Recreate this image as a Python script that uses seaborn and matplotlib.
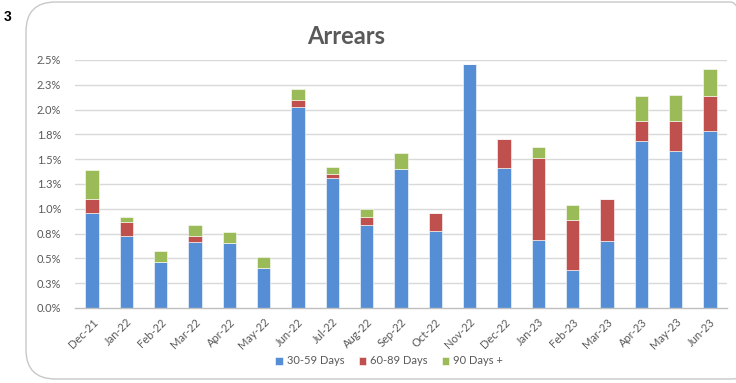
import matplotlib
matplotlib.use("Agg")
import matplotlib.pyplot as plt
from matplotlib.patches import FancyBboxPatch
import numpy as np
import pandas as pd
import seaborn as sns

# Monthly arrears split by age band (percent of book)
months = ["Dec-21", "Jan-22", "Feb-22", "Mar-22", "Apr-22", "May-22", "Jun-22",
          "Jul-22", "Aug-22", "Sep-22", "Oct-22", "Nov-22", "Dec-22", "Jan-23",
          "Feb-23", "Mar-23", "Apr-23", "May-23", "Jun-23"]
days_30_59 = [0.955, 0.730, 0.467, 0.662, 0.655, 0.406, 2.026, 1.310, 0.837, 1.404,
              0.779, 2.463, 1.408, 0.682, 0.383, 0.672, 1.687, 1.583, 1.784]
days_60_89 = [0.144, 0.140, 0.000, 0.067, 0.000, 0.000, 0.071, 0.040, 0.077, 0.000,
              0.182, 0.000, 0.296, 0.833, 0.507, 0.430, 0.201, 0.305, 0.356]
days_90_plus = [0.295, 0.044, 0.108, 0.111, 0.108, 0.111, 0.111, 0.070, 0.081, 0.162,
                0.000, 0.000, 0.000, 0.111, 0.148, 0.000, 0.246, 0.259, 0.269]
series_names = ["30-59 Days", "60-89 Days", "90 Days +"]
series_colors = ["#558ED5", "#C0504D", "#9BBB59"]
y_ticks = [0.0, 0.25, 0.5, 0.75, 1.0, 1.25, 1.5, 1.75, 2.0, 2.25, 2.5]
y_tick_labels = ["0.0%", "0.3%", "0.5%", "0.8%", "1.0%", "1.3%", "1.5%",
                 "1.8%", "2.0%", "2.3%", "2.5%"]

df = pd.DataFrame({"month": months, series_names[0]: days_30_59,
                   series_names[1]: days_60_89, series_names[2]: days_90_plus})

sns.set_theme(style="white")
plt.rcParams["font.family"] = ["Lato", "DejaVu Sans"]

W, H = 736, 383
fig = plt.figure(figsize=(W / 100, H / 100), dpi=100)
fig.patch.set_facecolor("white")

# Rounded chart frame
frame = FancyBboxPatch((26 / W, 4 / H), (760 - 26) / W, (381 - 4) / H,
                       boxstyle="round,pad=0,rounding_size=0.04",
                       transform=fig.transFigure, facecolor="none",
                       edgecolor="#C8C8C8", linewidth=1.0, zorder=-1,
                       mutation_aspect=W / H)
fig.patches.append(frame)

ax = fig.add_axes([75 / W, 1 - 308 / H, (727 - 75) / W, (308 - 60) / H])
ax.set_facecolor("none")

bottom = np.zeros(len(months))
for name, color in zip(series_names, series_colors):
    vals = df[name].to_numpy()
    sns.barplot(data=df, x="month", y=name, order=months, color=color,
                bottom=bottom, width=0.39, ax=ax, label=name,
                edgecolor="white", linewidth=0.4, saturation=1, zorder=3)
    bottom = bottom + vals

ax.set_xlim(-0.5, len(months) - 0.5)
ax.set_ylim(0, 2.5)
ax.set_yticks(y_ticks)
ax.set_yticklabels(y_tick_labels)
ax.set_xlabel("")
ax.set_ylabel("")

for y in y_ticks[1:]:
    ax.axhline(y, color="#D9D9D9", linewidth=1.0, zorder=1)

for side in ["top", "right", "left"]:
    ax.spines[side].set_visible(False)
ax.spines["bottom"].set_color("#BFBFBF")
ax.spines["bottom"].set_linewidth(1.0)
ax.spines["bottom"].set_zorder(4)

ax.tick_params(axis="y", length=0, pad=10, labelsize=8, labelcolor="#595959")
ax.set_xticks(np.arange(len(months)))
ax.set_xticklabels(months, rotation=45, ha="right", rotation_mode="anchor")
ax.tick_params(axis="x", which="major", length=0, pad=6, labelsize=8,
               labelcolor="#595959")
ax.set_xticks(np.arange(-0.5, len(months)), minor=True)
ax.tick_params(axis="x", which="minor", length=5, width=1.0, color="#BFBFBF",
               direction="out")

leg = ax.legend(loc="center", bbox_to_anchor=(389 / W, 1 - 361 / H),
                bbox_transform=fig.transFigure, ncol=3, frameon=False,
                fontsize=8, handlelength=0.7, handleheight=0.7,
                handletextpad=0.3, columnspacing=1.3, labelcolor="#595959")

fig.text(346 / W, 1 - 37 / H, "Arrears", ha="center", va="center",
         fontsize=17, fontweight="bold", color="#595959")
fig.text(8 / W, 1 - 17 / H, "3", ha="center", va="center", fontsize=10,
         fontweight="bold", color="#000000", family=["Liberation Sans"])

fig.savefig("out.png", dpi=100, facecolor="white")
